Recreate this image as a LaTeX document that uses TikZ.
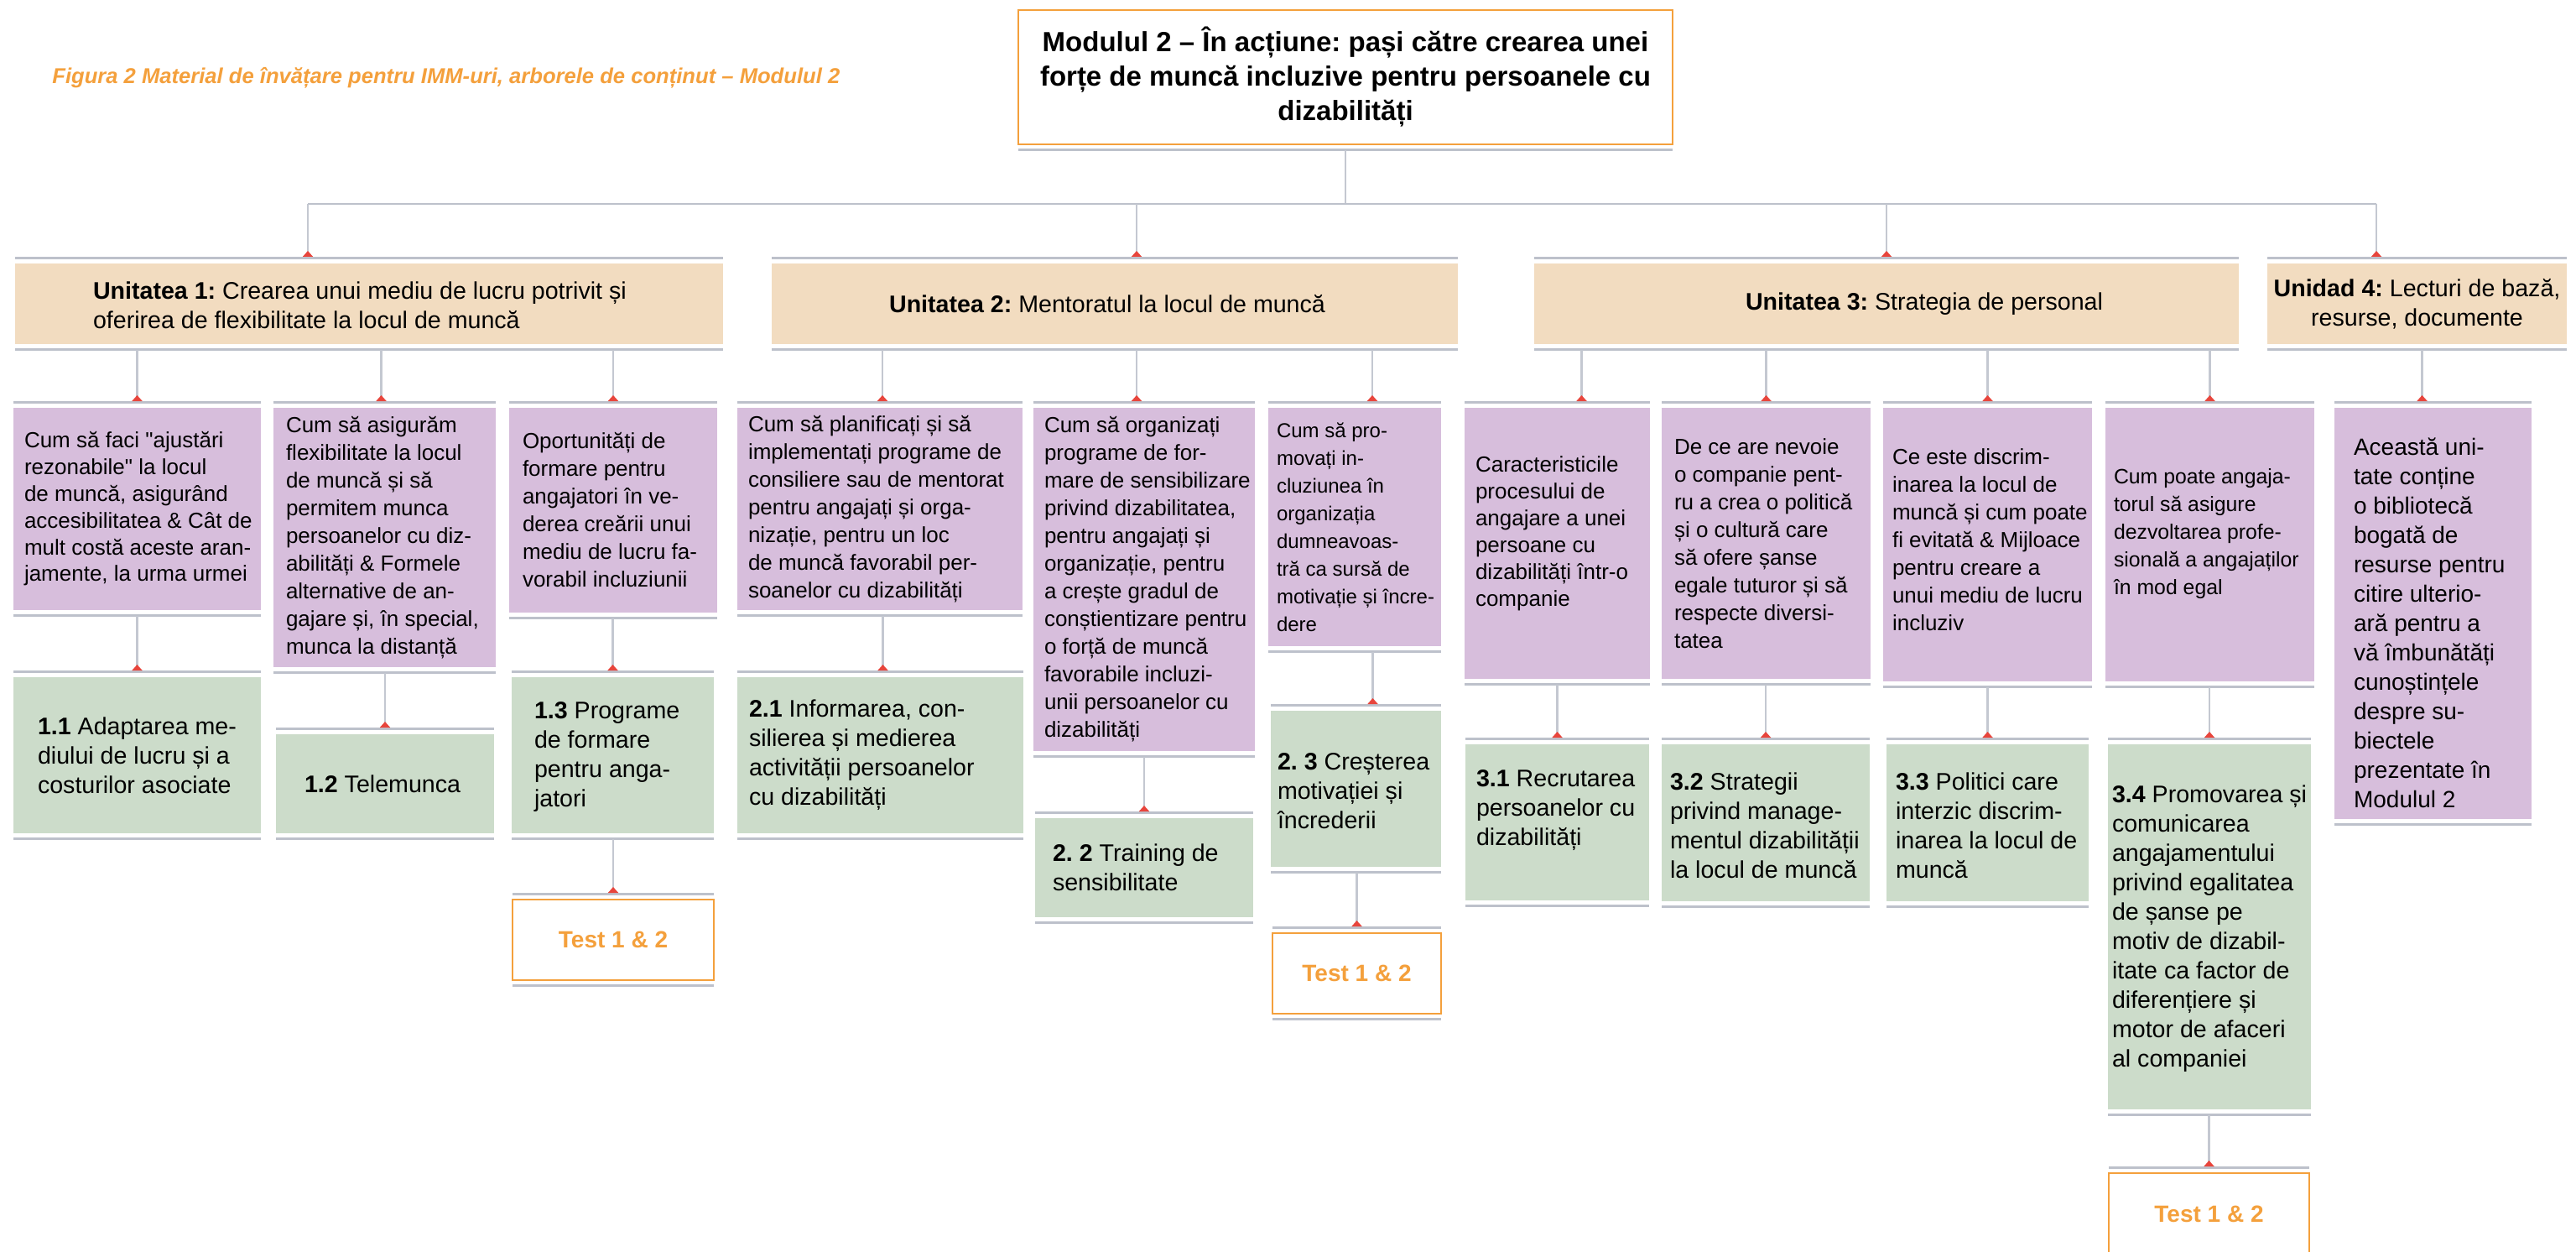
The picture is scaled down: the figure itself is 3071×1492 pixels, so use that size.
\documentclass[tikz,border=0pt]{standalone}
\usepackage{fontspec}
\setmainfont{Liberation Sans}[Ligatures=TeXOff]
\AtBeginDocument{\frenchspacing}
\usetikzlibrary{arrows.meta,calc}
\definecolor{tanc}{HTML}{F2DCC0}
\definecolor{purp}{HTML}{D7BEDC}
\definecolor{grn}{HTML}{CCDCCA}
\definecolor{orng}{HTML}{F4A03C}
\definecolor{barg}{HTML}{BDC1CB}
\definecolor{lineg}{HTML}{C4C8D1}
\definecolor{ared}{HTML}{E8453C}
\tikzset{
  ubox/.style={fill=tanc},
  qbox/.style={fill=purp},
  gbox/.style={fill=grn},
  tbox/.style={fill=white, draw=orng, line width=1.2pt},
  txtbase/.style={inner sep=0pt, outer sep=0pt, align=left, execute at begin node=\frenchspacing},
  qtxt/.style={txtbase, font=\fontsize{13pt}{16.5pt}\selectfont},
  gtxt/.style={txtbase, font=\fontsize{14.3pt}{17.5pt}\selectfont},
  utxt/.style={txtbase, font=\fontsize{14.3pt}{17.5pt}\selectfont},
  ttxt/.style={txtbase, align=center, text=orng, font=\bfseries\fontsize{14pt}{17pt}\selectfont},
  barline/.style={draw=barg, line width=1.5pt},
  cline/.style={draw=lineg, line width=1.3pt, -{Triangle[reversed, width=6pt, length=3.5pt, color=ared, fill=ared]}},
  stemline/.style={draw=lineg, line width=1.3pt},
  busline/.style={draw=barg, line width=1.4pt},
}
% name, x1, y1, x2, y2, style
\newcommand\bxbox[6]{%
  \pgfmathsetmacro\bxcx{(#2+#4)/2}%
  \pgfmathsetmacro\bxcy{(#3+#5)/2}%
  \pgfmathsetmacro\bxw{(#4-#2)/2}%
  \pgfmathsetmacro\bxh{(#5-#3)/2}%
  \node[#6, outer sep=0pt, inner sep=0pt, minimum width=\bxw pt, minimum height=\bxh pt] (#1) at (\bxcx,\bxcy) {};
  \draw[barline] ([yshift=3.3pt]#1.north west) -- ([yshift=3.3pt]#1.north east);
  \draw[barline] ([yshift=-3.3pt]#1.south west) -- ([yshift=-3.3pt]#1.south east);
}
% parent, child, dx(px)
\newcommand\cn[3]{\draw[cline] ($(#1.south -| #2.north)+(#3,6.6)$) -- ($(#2.north)+(#3,-8)$);}
\begin{document}
\begin{tikzpicture}[x=0.5pt,y=-0.5pt]
\useasboundingbox[fill=white] (0,0) rectangle (3071,1492);

\node[anchor=base west, inner sep=0pt, text=orng, font=\bfseries\itshape\fontsize{12.8pt}{15pt}\selectfont] (cap) at (62,100)
  {Figura 2 Material de învățare pentru IMM-uri, arborele de conținut – Modulul 2};

\node[outer sep=0pt, draw=orng, line width=1.2pt, fill=white, minimum width=390pt, minimum height=80pt,
  align=center, font=\bfseries\fontsize{16.5pt}{20.5pt}\selectfont] (mod) at (1604,92)
  {Modulul 2 – În acțiune: pași către crearea unei\\forțe de muncă incluzive pentru persoanele cu\\dizabilități};
\draw[barline] ([yshift=-3.3pt]mod.south west) -- ([yshift=-3.3pt]mod.south east);

% units
\bxbox{u1}{18}{314}{862}{410}{ubox}
\node[utxt, anchor=west] (u1t) at ($(u1.west)+(93,2)$) {\textbf{Unitatea 1:} Crearea unui mediu de lucru potrivit și\\oferirea de flexibilitate la locul de muncă};
\bxbox{u2}{920}{314}{1738}{410}{ubox}
\node[utxt] (u2t) at ($(u2.center)+(-9,0)$) {\textbf{Unitatea 2:} Mentoratul la locul de muncă};
\bxbox{u3}{1829}{314}{2669}{410}{ubox}
\node[utxt] (u3t) at ($(u3.center)+(45,0)$) {\textbf{Unitatea 3:} Strategia de personal};
\bxbox{u4}{2703}{314}{3060}{410}{ubox}
\node[utxt, align=center] (u4t) at (u4.center) {\textbf{Unidad 4:} Lecturi de bază,\\resurse, documente};

% questions
\bxbox{p11}{16}{486}{311}{727}{qbox}
\node[qtxt, anchor=west, font=\fontsize{13pt}{15.9pt}\selectfont] (p11t) at ($(p11.west)+(13,0)$) {Cum să faci "ajustări\\rezonabile" la locul\\de muncă, asigurând\\accesibilitatea \& Cât de\\mult costă aceste aran-\\jamente, la urma urmei};
\bxbox{p12}{326}{486}{591}{795}{qbox}
\node[qtxt, anchor=west] (p12t) at ($(p12.west)+(15,0)$) {Cum să asigurăm\\flexibilitate la locul\\de muncă și să\\permitem munca\\persoanelor cu diz-\\abilități \& Formele\\alternative de an-\\gajare și, în special,\\munca la distanță};
\bxbox{p13}{607}{486}{855}{730}{qbox}
\node[qtxt, anchor=west] (p13t) at ($(p13.west)+(16,0)$) {Oportunități de\\formare pentru\\angajatori în ve-\\derea creării unui\\mediu de lucru fa-\\vorabil incluziunii};
\bxbox{p21}{879}{486}{1219}{727}{qbox}
\node[qtxt, anchor=west] (p21t) at ($(p21.west)+(13,0)$) {Cum să planificați și să\\implementați programe de\\consiliere sau de mentorat\\pentru angajați și orga-\\nizație, pentru un loc\\de muncă favorabil per-\\soanelor cu dizabilități};
\bxbox{p22}{1232}{486}{1496}{895}{qbox}
\node[qtxt, anchor=west] (p22t) at ($(p22.west)+(13,0)$) {Cum să organizați\\programe de for-\\mare de sensibilizare\\privind dizabilitatea,\\pentru angajați și\\organizație, pentru\\a crește gradul de\\conștientizare pentru\\o forță de muncă\\favorabile incluzi-\\unii persoanelor cu\\dizabilități};
\bxbox{p23}{1512}{486}{1718}{770}{qbox}
\node[qtxt, anchor=west, font=\fontsize{12pt}{16.5pt}\selectfont] (p23t) at ($(p23.west)+(10,0)$) {Cum să pro-\\movați in-\\cluziunea în\\organizația\\dumneavoas-\\tră ca sursă de\\motivație și încre-\\dere};
\bxbox{p31}{1746}{486}{1967}{809}{qbox}
\node[qtxt, anchor=west, font=\fontsize{13pt}{16pt}\selectfont] (p31t) at ($(p31.west)+(13,-12)$) {Caracteristicile\\procesului de\\angajare a unei\\persoane cu\\dizabilități într-o\\companie};
\bxbox{p32}{1981}{486}{2230}{809}{qbox}
\node[qtxt, anchor=west] (p32t) at ($(p32.west)+(15,0)$) {De ce are nevoie\\o companie pent-\\ru a crea o politică\\și o cultură care\\să ofere șanse\\egale tuturor și să\\respecte diversi-\\tatea};
\bxbox{p33}{2245}{486}{2494}{812}{qbox}
\node[qtxt, anchor=west] (p33t) at ($(p33.west)+(11,-6)$) {Ce este discrim-\\inarea la locul de\\muncă și cum poate\\fi evitată \& Mijloace\\pentru creare a\\unui mediu de lucru\\incluziv};
\bxbox{p34}{2510}{486}{2759}{812}{qbox}
\node[qtxt, anchor=west, font=\fontsize{12.4pt}{16.5pt}\selectfont] (p34t) at ($(p34.west)+(10,-13)$) {Cum poate angaja-\\torul să asigure\\dezvoltarea profe-\\sională a angajaților\\în mod egal};
\bxbox{p4}{2783}{486}{3018}{976}{qbox}
\node[qtxt, anchor=west, font=\fontsize{14pt}{17.5pt}\selectfont] (p4t) at ($(p4.west)+(23,11)$) {Această uni-\\tate conține\\o bibliotecă\\bogată de\\resurse pentru\\citire ulterio-\\ară pentru a\\vă îmbunătăți\\cunoștințele\\despre su-\\biectele\\prezentate în\\Modulul 2};

% topics
\bxbox{g11}{16}{807}{311}{993}{gbox}
\node[gtxt, anchor=west] (g11t) at ($(g11.west)+(29,0)$) {\textbf{1.1} Adaptarea me-\\diului de lucru și a\\costurilor asociate};
\bxbox{g12}{329}{875}{589}{993}{gbox}
\node[gtxt, anchor=west] (g12t) at ($(g12.west)+(34,0)$) {\textbf{1.2} Telemunca};
\bxbox{g13}{610}{807}{851}{993}{gbox}
\node[gtxt, anchor=west] (g13t) at ($(g13.west)+(27,2)$) {\textbf{1.3} Programe\\de formare\\pentru anga-\\jatori};
\bxbox{g21}{879}{807}{1220}{993}{gbox}
\node[gtxt, anchor=west] (g21t) at ($(g21.west)+(14,0)$) {\textbf{2.1} Informarea, con-\\silierea și medierea\\activității persoanelor\\cu dizabilități};
\bxbox{g22}{1234}{975}{1494}{1093}{gbox}
\node[gtxt, anchor=west] (g22t) at ($(g22.west)+(21,0)$) {\textbf{2. 2} Training de\\sensibilitate};
\bxbox{g23}{1515}{847}{1718}{1033}{gbox}
\node[gtxt, anchor=west] (g23t) at ($(g23.west)+(8,3)$) {\textbf{2. 3} Creșterea\\motivației și\\încrederii};
\bxbox{g31}{1747}{887}{1966}{1073}{gbox}
\node[gtxt, anchor=west] (g31t) at ($(g31.west)+(13,-14)$) {\textbf{3.1} Recrutarea\\persoanelor cu\\dizabilități};
\bxbox{g32}{1981}{887}{2229}{1074}{gbox}
\node[gtxt, anchor=west] (g32t) at ($(g32.west)+(10,3)$) {\textbf{3.2} Strategii\\privind manage-\\mentul dizabilității\\la locul de muncă};
\bxbox{g33}{2249}{887}{2490}{1074}{gbox}
\node[gtxt, anchor=west] (g33t) at ($(g33.west)+(11,3)$) {\textbf{3.3} Politici care\\interzic discrim-\\inarea la locul de\\muncă};
\bxbox{g34}{2513}{887}{2755}{1322}{gbox}
\node[gtxt, anchor=west] (g34t) at ($(g34.west)+(5,2)$) {\textbf{3.4} Promovarea și\\comunicarea\\angajamentului\\privind egalitatea\\de șanse pe\\motiv de dizabil-\\itate ca factor de\\diferențiere și\\motor de afaceri\\al companiei};

% tests
\bxbox{t1}{611}{1072}{851}{1168}{tbox}
\node[ttxt] (t1t) at (t1.center) {Test 1 \& 2};
\bxbox{t2}{1517}{1112}{1718}{1208}{tbox}
\node[ttxt] (t2t) at (t2.center) {Test 1 \& 2};
\bxbox{t3}{2514}{1398}{2753}{1500}{tbox}
\node[ttxt] (t3t) at ($(t3.center)+(0,-2)$) {Test 1 \& 2};

% bus
\coordinate (busL) at (367,243);
\coordinate (busR) at (2833,243);
\draw[stemline] ($(mod.south)+(0,6.6)$) -- (mod.south |- busL);
\draw[busline] (busL) -- (busR);
\draw[cline] (busL) -- ($(busL |- u1.north)+(0,-8)$);
\draw[cline] ($(u2.north |- busL)+(26,0)$) -- ($(u2.north)+(26,-8)$);
\draw[cline] (u3.north |- busL) -- ($(u3.north)+(0,-8)$);
\draw[cline] (busR) -- ($(busR |- u4.north)+(0,-8)$);

% unit -> question
\cn{u1}{p11}{0}
\cn{u1}{p12}{-4}
\cn{u1}{p13}{0}
\cn{u2}{p21}{3}
\cn{u2}{p22}{-9}
\cn{u2}{p23}{21}
\cn{u3}{p31}{29}
\cn{u3}{p32}{0}
\cn{u3}{p33}{0}
\cn{u3}{p34}{0}
\cn{u4}{p4}{-13}
% question -> topic
\cn{p11}{g11}{0}
\cn{p12}{g12}{0}
\cn{p13}{g13}{0}
\cn{p21}{g21}{3}
\cn{p22}{g22}{0}
\cn{p23}{g23}{20}
\cn{p31}{g31}{0}
\cn{p32}{g32}{0}
\cn{p33}{g33}{0}
\cn{p34}{g34}{0}
% topic -> test
\cn{g13}{t1}{0}
\cn{g23}{t2}{0}
\cn{g34}{t3}{0}
\end{tikzpicture}
\end{document}
